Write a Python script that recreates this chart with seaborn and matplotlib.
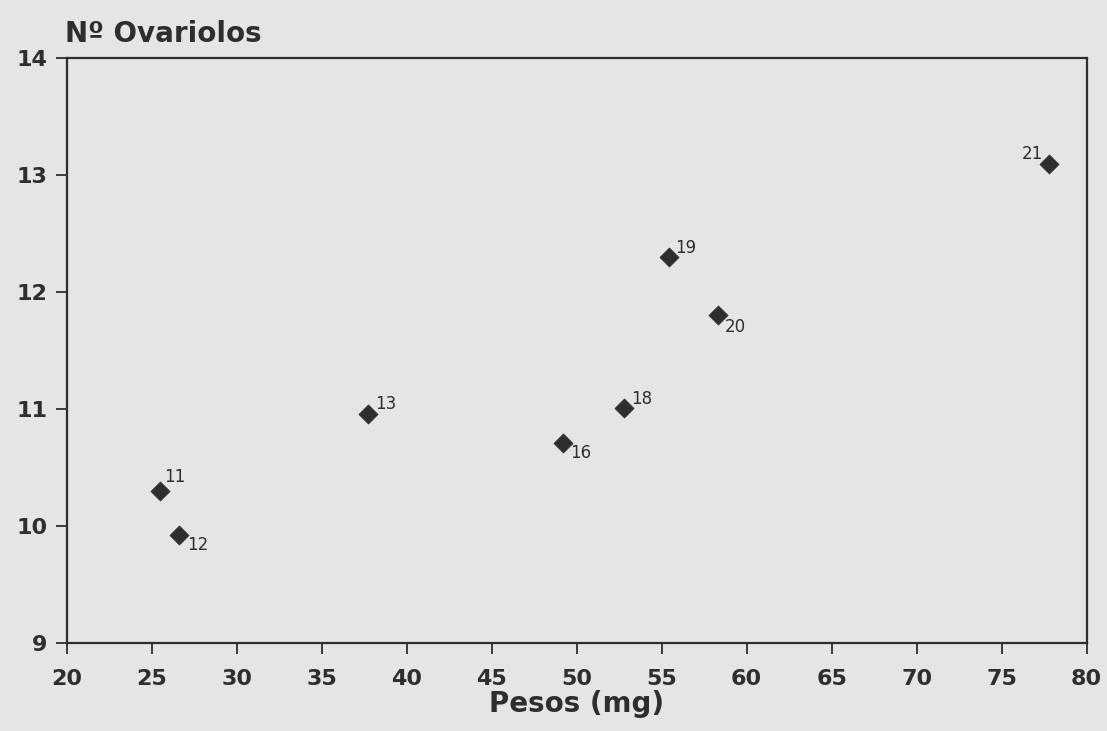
import matplotlib
matplotlib.use("Agg")
import matplotlib.pyplot as plt
import seaborn as sns
import pandas as pd

# Data
labels = ["11", "12", "13", "16", "18", "19", "20", "21"]
pesos = [25.5, 26.6, 37.7, 49.2, 52.8, 55.4, 58.3, 77.8]
ovariolos = [10.3, 9.92, 10.96, 10.71, 11.01, 12.3, 11.8, 13.1]
# label offsets (points) relative to each marker
offsets = [(3, 6), (6, -11), (5, 3), (5, -11), (5, 3), (5, 3), (5, -12), (-20, 3)]

x_ticks = list(range(20, 81, 5))
y_ticks = list(range(9, 15))

df = pd.DataFrame({"Pesos": pesos, "Ovariolos": ovariolos, "id": labels})

sns.set_style("ticks")
plt.rcParams["font.family"] = ["DejaVu Sans"]

bg = "#e5e5e3"
ink = "#2e2e2e"

fig = plt.figure(figsize=(11.07, 7.31), dpi=100, facecolor=bg)
ax = fig.add_axes([0.0605, 0.121, 0.921, 0.799])
ax.set_facecolor(bg)

sns.scatterplot(data=df, x="Pesos", y="Ovariolos", marker="D", s=95,
                color=ink, edgecolor=ink, linewidth=0.5, ax=ax, legend=False)

for lab, xv, yv, off in zip(labels, pesos, ovariolos, offsets):
    ax.annotate(lab, (xv, yv), xytext=off, textcoords="offset points",
                fontsize=12, color=ink)

ax.set_xlim(20, 80)
ax.set_ylim(9, 14)
ax.set_xticks(x_ticks)
ax.set_yticks(y_ticks)
ax.tick_params(axis="both", direction="out", length=8, width=1.3, colors=ink,
               labelsize=16)
ax.tick_params(axis="x", pad=11)
ax.tick_params(axis="y", pad=6)
for lbl in ax.get_xticklabels() + ax.get_yticklabels():
    lbl.set_fontweight("bold")
for sp in ax.spines.values():
    sp.set_color(ink)
    sp.set_linewidth(1.6)

ax.set_xlabel("Pesos (mg)", fontsize=20, fontweight="bold", color=ink, labelpad=1)
ax.set_ylabel("")
fig.text(0.059, 0.935, "Nº Ovariolos", fontsize=20, fontweight="bold",
         color=ink, ha="left", va="bottom")

fig.savefig("out.png", dpi=100, facecolor=bg)
